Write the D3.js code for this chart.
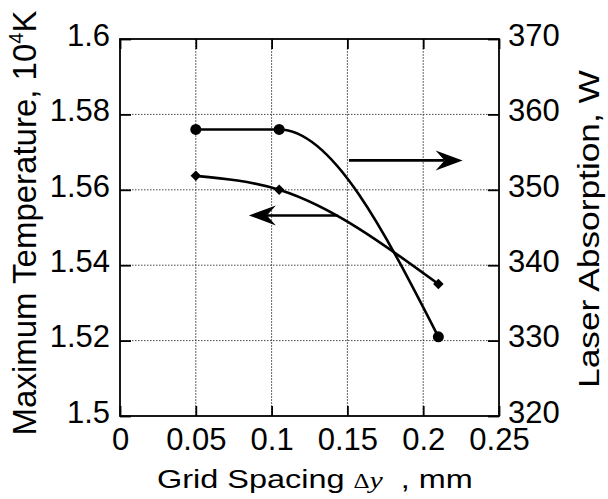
<!DOCTYPE html>
<html>
<head>
<meta charset="utf-8">
<script src="https://cdn.jsdelivr.net/npm/d3@7"></script>
<style>
  body { margin: 0; background: #fff; }
  text { font-family: "Liberation Sans", Arial, Helvetica, sans-serif; fill: #000; }
  .grid line { stroke: #333; stroke-width: 0.9; stroke-dasharray: 1.5,1.5; }
  .grid line.gx { stroke: #555; stroke-dasharray: 2,1; }
</style>
</head>
<body>
<svg id="chart" width="608" height="499"></svg>
<script>
// data
var gridSpacing = [0.05, 0.105, 0.21];
var maxTemp = [1.5637, 1.56, 1.535];      // left axis, 10^4 K
var laserAbs = [358, 358, 330.5];         // right axis, W
var xTicks = [0, 0.05, 0.1, 0.15, 0.2, 0.25];
var leftTicks = [1.5, 1.52, 1.54, 1.56, 1.58, 1.6];
var rightTicks = [320, 330, 340, 350, 360, 370];
// arrows pointing to the axis each curve belongs to (data units)
var arrowRight = [0.151, 0.226, 353.9];
var arrowLeft = [0.1437, 0.085, 1.5532];

var marginLeft = 120, marginTop = 39, width = 379, height = 377;
var svg = d3.select("#chart");
var chart = svg.append("g").attr("transform", `translate(${marginLeft},${marginTop})`);

var x = d3.scaleLinear().domain([0, 0.25]).range([0, width]);
var yL = d3.scaleLinear().domain([1.5, 1.6]).range([height, 0]);
var yR = d3.scaleLinear().domain([320, 370]).range([height, 0]);

// dotted grid
var grid = chart.append("g").attr("class", "grid");
grid.selectAll(".gx").data(xTicks.slice(1, -1)).join("line")
    .attr("class", "gx")
    .attr("x1", d => x(d)).attr("x2", d => x(d))
    .attr("y1", 0).attr("y2", height);
grid.selectAll(".gy").data(leftTicks.slice(1, -1)).join("line")
    .attr("class", "gy")
    .attr("x1", 0).attr("x2", width)
    .attr("y1", d => yL(d)).attr("y2", d => yL(d));

// axes, ticks pointing inward
chart.append("g")
    .attr("transform", `translate(0,${height})`)
    .call(d3.axisBottom(x).tickValues(xTicks).tickFormat(d => String(d)).tickSize(-10).tickPadding(12))
    .call(g => g.select(".domain").remove());
chart.append("g")
    .call(d3.axisTop(x).tickValues(xTicks).tickFormat("").tickSize(-10))
    .call(g => g.select(".domain").remove());
chart.append("g")
    .call(d3.axisLeft(yL).tickValues(leftTicks).tickFormat(d => String(d)).tickSize(-11).tickPadding(10))
    .call(g => g.select(".domain").remove());
chart.append("g")
    .attr("transform", `translate(${width},0)`)
    .call(d3.axisRight(yR).tickValues(rightTicks).tickSize(-11).tickPadding(9))
    .call(g => g.select(".domain").remove());

chart.selectAll(".tick line").attr("stroke", "#000").attr("stroke-width", 1.8);
chart.selectAll(".tick text").style("font-size", "31px")
    .style("font-family", "'Liberation Sans', Arial, sans-serif");
chart.selectAll(".tick text").filter(function () { return this.getAttribute("dy") === "0.32em"; })
    .attr("dy", "0.2em");

chart.append("rect")
    .attr("width", width).attr("height", height)
    .attr("fill", "none").attr("stroke", "#000").attr("stroke-width", 1.8);

// curves
var pts = gridSpacing.map((g, i) => ({x: g, t: maxTemp[i], a: laserAbs[i]}));

chart.append("path").datum(pts)
    .attr("fill", "none").attr("stroke", "#000").attr("stroke-width", 2.6)
    .attr("d", d3.line().x(d => x(d.x)).y(d => yR(d.a)).curve(d3.curveMonotoneX));
chart.append("path").datum(pts)
    .attr("fill", "none").attr("stroke", "#000").attr("stroke-width", 2.6)
    .attr("d", d3.line().x(d => x(d.x)).y(d => yL(d.t)).curve(d3.curveMonotoneX));

chart.selectAll(".dot").data(pts).join("circle")
    .attr("cx", d => x(d.x)).attr("cy", d => yR(d.a)).attr("r", 5.5).attr("fill", "#000");
chart.selectAll(".dia").data(pts).join("path")
    .attr("transform", d => `translate(${x(d.x)},${yL(d.t)}) rotate(45)`)
    .attr("d", d3.symbol(d3.symbolSquare, 55)).attr("fill", "#000");

// arrows
function arrow(x1, x2, y) {
  var dir = x2 > x1 ? 1 : -1;
  chart.append("line")
      .attr("x1", x1).attr("x2", x2 - dir * 18).attr("y1", y).attr("y2", y)
      .attr("stroke", "#000").attr("stroke-width", 2.6);
  chart.append("path")
      .attr("d", `M${x2},${y}L${x2 - dir * 27},${y - 10}L${x2 - dir * 18},${y}L${x2 - dir * 27},${y + 10}Z`)
      .attr("fill", "#000");
}
arrow(x(arrowRight[0]), x(arrowRight[1]), yR(arrowRight[2]));
arrow(x(arrowLeft[0]), x(arrowLeft[1]), yL(arrowLeft[2]));

// stretch a title so it spans the same length as in the original
function fit(sel, cx, cy, len, rot) {
  var w = sel.node().getComputedTextLength();
  sel.attr("x", 0).attr("y", 0)
     .attr("transform", `translate(${cx},${cy}) rotate(${rot}) scale(${len / w},1)`);
}

// axis titles
var xt = svg.append("text")
    .attr("text-anchor", "middle")
    .style("font-size", "26px");
xt.append("tspan").text("Grid Spacing ");
xt.append("tspan").text("\u0394")
    .style("font-family", "'Liberation Serif', 'Times New Roman', serif").style("font-size", "20px");
xt.append("tspan").text("y")
    .style("font-family", "'Liberation Serif', 'Times New Roman', serif").style("font-size", "24px")
    .style("font-style", "italic");
xt.append("tspan").text("\u00a0 , mm");
fit(xt, 315, 488, 316, 0);

var yt = svg.append("text")
    .attr("text-anchor", "middle")
    .style("font-size", "33px");
yt.append("tspan").text("Maximum Temperature, 10");
yt.append("tspan").text("4").attr("dy", -13).style("font-size", "20px");
yt.append("tspan").text("K").attr("dy", 13);
fit(yt, 36, 223, 425, -90);

var rt = svg.append("text")
    .attr("text-anchor", "middle")
    .style("font-size", "29px")
    .text("Laser Absorption, W");
fit(rt, 599, 229, 318, -90);
</script>
</body>
</html>
